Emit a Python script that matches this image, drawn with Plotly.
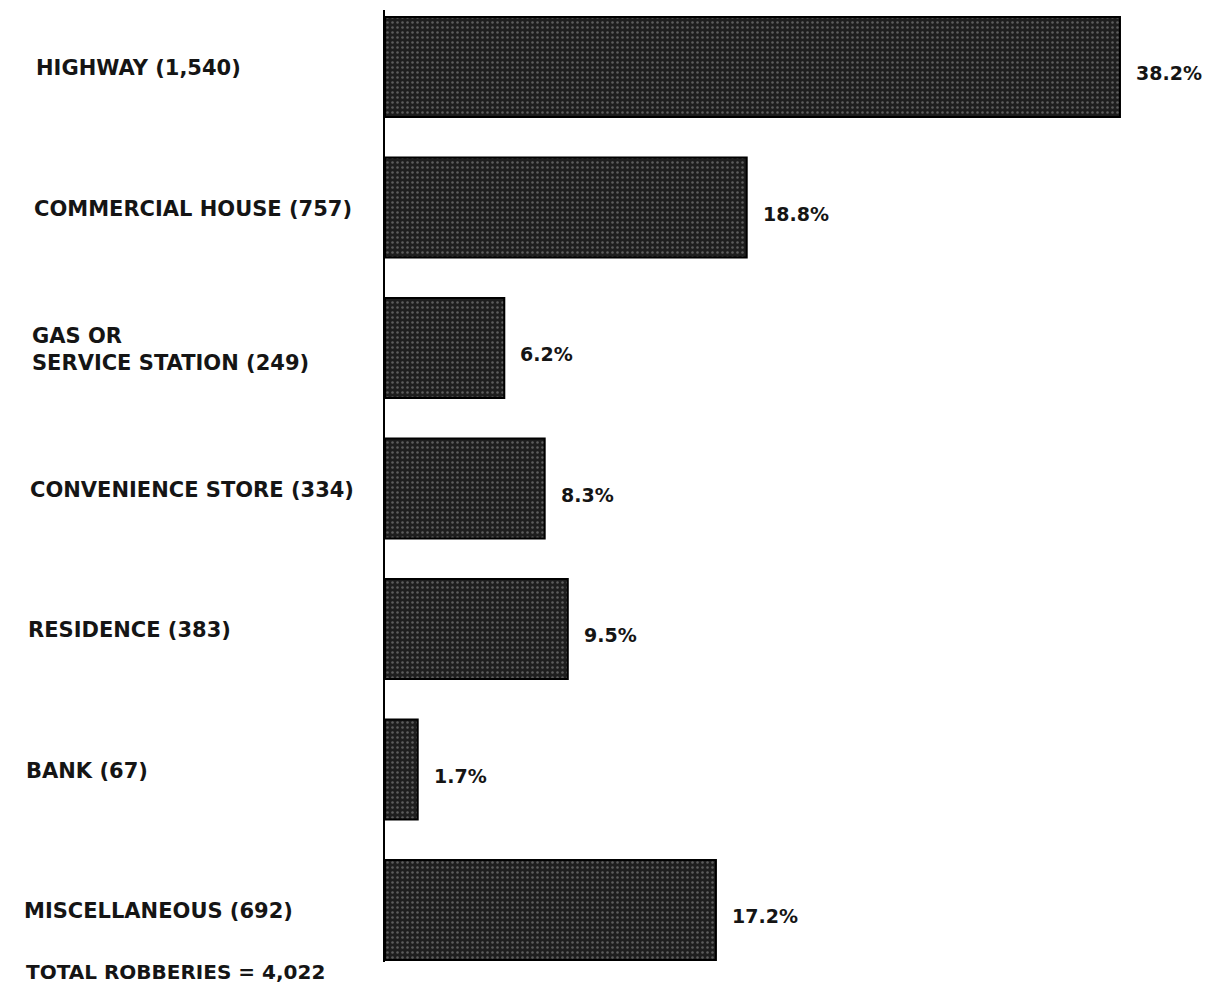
import plotly.graph_objects as go

categories = ["HIGHWAY", "COMMERCIAL HOUSE", "GAS OR<br>SERVICE STATION", "CONVENIENCE STORE",
              "RESIDENCE", "BANK", "MISCELLANEOUS"]
counts = [1540, 757, 249, 334, 383, 67, 692]
percents = [38.2, 18.8, 6.2, 8.3, 9.5, 1.7, 17.2]
total_robberies = 4022

W, H = 1231, 990
ml, mr, mt, mb = 377, 27, 2, 36
pw = W - ml - mr
ph = H - mt - mb
ypos = list(range(len(categories)))
FONT = "DejaVu Sans"
TXT = "#151515"

fig = go.Figure()
fig.add_trace(go.Bar(
    x=percents, y=ypos, orientation="h", width=0.71,
    marker=dict(color="#2a2a2a", line=dict(color="#000000", width=2),
                pattern=dict(shape=".", fgcolor="#9c9c9c", bgcolor="#1e1e1e",
                             size=5, solidity=0.2, fillmode="overlay")),
    hoverinfo="skip",
))

for i, p in enumerate(percents):
    fig.add_annotation(x=p, xref="x", y=ypos[i], yref="y", text=f"<b>{p}%</b>",
                       showarrow=False, xanchor="left", yanchor="middle",
                       xshift=14, yshift=-6,
                       font=dict(family=FONT, size=19, color=TXT))

for i, (c, n) in enumerate(zip(categories, counts)):
    lx = -(ml - 26 + 2 * i) / pw
    fig.add_annotation(x=lx, xref="paper", y=ypos[i], yref="y",
                       text=f"<b>{c} ({n:,})</b>", showarrow=False,
                       xanchor="left", yanchor="middle", align="left", yshift=-1,
                       font=dict(family=FONT, size=21, color=TXT))

fig.add_annotation(x=-(ml - 16) / pw, xref="paper", y=-(964 - (H - mb)) / ph, yref="paper",
                   text=f"<b>TOTAL ROBBERIES = {total_robberies:,}</b>", showarrow=False,
                   xanchor="left", yanchor="middle",
                   font=dict(family=FONT, size=20, color=TXT))

ppu = 140.5
top = -(59 - mt) / ppu
bottom = top + ph / ppu
fig.update_layout(
    width=W, height=H, margin=dict(l=ml, r=mr, t=mt, b=mb),
    paper_bgcolor="white", plot_bgcolor="white", showlegend=False,
    xaxis=dict(range=[0, pw / 19.24], visible=False, fixedrange=True),
    yaxis=dict(range=[bottom, top], showticklabels=False, showgrid=False, zeroline=False,
               showline=True, linecolor="#000000", linewidth=2, ticks=""),
)
fig.write_html("out.html")
